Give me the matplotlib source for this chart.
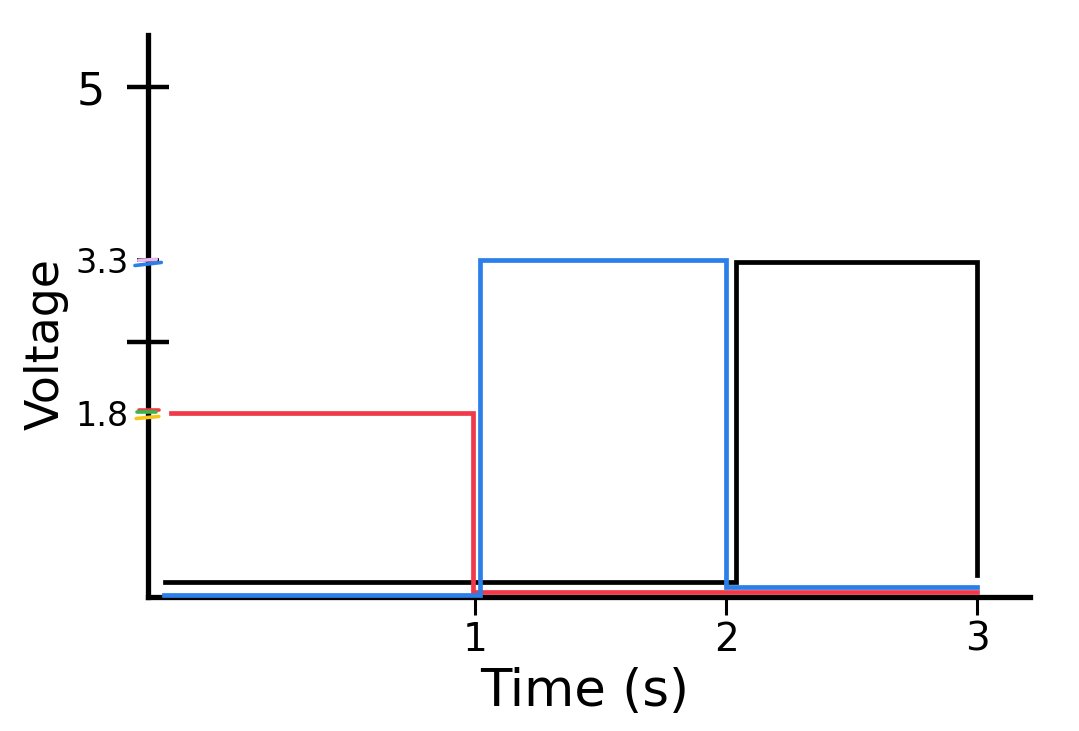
import matplotlib.pyplot as plt

# signal levels (time in s, voltage in V)
red_t = [-0.21, 0.99, 0.99, 3.0]
red_v = [1.8, 1.8, 0.05, 0.05]

blue_t = [-0.24, 1.02, 1.02, 2.0, 2.0, 3.0]
blue_v = [0.02, 0.02, 3.3, 3.3, 0.1, 0.1]

black_t = [-0.235, 2.04, 2.04, 3.0, 3.0]
black_v = [0.15, 0.15, 3.28, 3.28, 0.22]

x_ticks = [1, 2, 3]
x_labels = ['1', '2', '3']
y_major = [5, 2.5]
y_major_labels = ['5', '']
y_minor = [3.3, 1.8]
y_minor_labels = ['3.3', '1.8']

# little colour marks scribbled on the y axis
marks = [
    ('#2a7fe8', [-0.355, -0.25], [3.25, 3.28]),
    ('#e9b8f0', [-0.34, -0.27], [3.30, 3.31]),
    ('#f03a4a', [-0.34, -0.26], [1.83, 1.83]),
    ('#3cb44b', [-0.345, -0.27], [1.81, 1.81]),
    ('#f5c518', [-0.35, -0.26], [1.75, 1.77]),
]

fig = plt.figure(figsize=(10.79, 7.31), dpi=100)
ax = fig.add_axes([148 / 1079, (731 - 597) / 731, (1030 - 148) / 1079, (597 - 35) / 731])

lw = 3.4
ax.plot(red_t, red_v, color='#f03a4a', lw=lw, clip_on=False, solid_joinstyle='miter', zorder=3)
ax.plot(black_t, black_v, color='black', lw=lw, clip_on=False, solid_joinstyle='miter', zorder=2)
ax.plot(blue_t, blue_v, color='#2a7fe8', lw=lw, clip_on=False, solid_joinstyle='miter', zorder=4)

for c, xs, ys in marks:
    ax.plot(xs, ys, color=c, lw=2.6, clip_on=False, solid_capstyle='round', zorder=5)

ax.set_xlim(-0.303, 3.211)
ax.set_ylim(0, 5.51)

for s in ['top', 'right']:
    ax.spines[s].set_visible(False)
for s in ['left', 'bottom']:
    ax.spines[s].set_linewidth(3.8)

ax.set_xticks(x_ticks, x_labels, fontsize=28)
ax.tick_params(axis='x', direction='out', length=13, width=2.2, pad=4)

ax.set_yticks(y_major, y_major_labels, fontsize=32)
ax.tick_params(axis='y', which='major', direction='inout', length=30, width=3.2, pad=16)
ax.set_yticks(y_minor, y_minor_labels, minor=True, fontsize=24)
ax.tick_params(axis='y', which='minor', direction='inout', length=16, width=2.6, pad=6)
ax.yaxis.get_minor_ticks()[1].tick1line.set_visible(False)

ax.set_xlabel('Time (s)', fontsize=37)
ax.xaxis.set_label_coords(0.495, -0.125)
ax.set_ylabel('Voltage', fontsize=33)
ax.yaxis.set_label_coords(-0.09, 0.45)

fig.savefig('out.png', dpi=100)
